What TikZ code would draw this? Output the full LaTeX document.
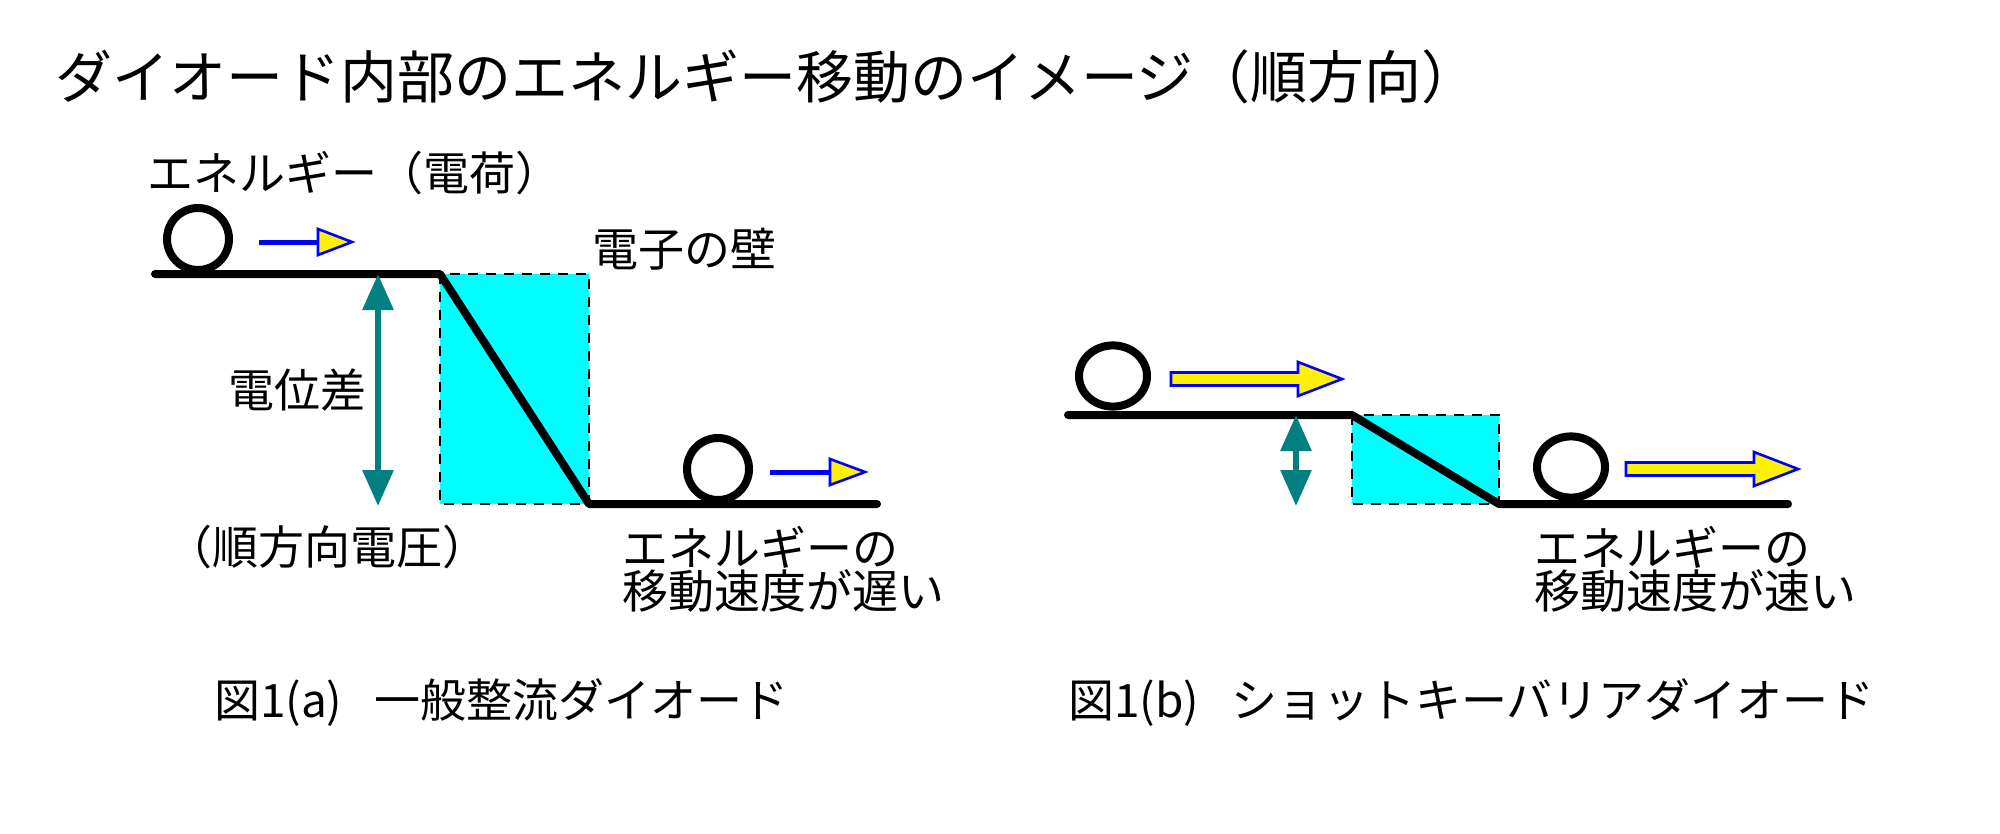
\documentclass[tikz,border=0pt]{standalone}
\usepackage{fontspec}
\newfontfamily\jpfont{Noto Sans CJK JP}
\usetikzlibrary{arrows.meta}
\definecolor{wallcyan}{RGB}{0,255,255}
\definecolor{voltteal}{RGB}{0,128,128}

\begin{document}
\begin{tikzpicture}[x=0.5pt, y=-0.5pt]
\tikzset{ >=latex, inner sep=0pt, outer sep=0pt,
  lbl/.style={font=\jpfont\fontsize{23}{28}\selectfont, anchor=west},
  ground/.style={line width=4pt, line cap=round, line join=round},
  charge/.style={line width=4pt},
  wall/.style={fill=wallcyan, draw=black, line width=1.2pt, dash pattern=on 5pt off 4pt},
  volt/.style={voltteal, line width=3pt, {Triangle[width=15pt,length=18pt]}-{Triangle[width=15pt,length=18pt]}},
  flow/.style={blue, line width=2.5pt},
  head/.style={fill=yellow, draw=blue, line width=1.3pt, line join=miter},
}

\useasboundingbox (0,0) rectangle (2000,834);

%\draw [lightgray, dashed](0,0) grid[step=100] (2000,834);

\node [lbl, font=\jpfont\fontsize{28.5}{34}\selectfont] (title) at (55,77) {ダイオード内部のエネルギー移動のイメージ（順方向）};

% (a) pn junction
\coordinate (A1) at (155,274);
\coordinate (A2) at (440,274);
\coordinate (A3) at (589,504);
\coordinate (A4) at (877,504);

\draw [wall] (A2) rectangle (A3);
\draw [ground] (A1) -- (A2) -- (A3) -- (A4);

\draw [charge] (198,239) ellipse [x radius=15.5pt, y radius=15.5pt];
\draw [charge] (718,469) ellipse [x radius=15.5pt, y radius=15.5pt];

\draw [flow] (259,242) -- (320,242);
\draw [head] (318,229) -- (352,242) -- (318,255) -- cycle;
\draw [flow] (770,472) -- (832,472);
\draw [head] (830,459) -- (865,472) -- (830,485) -- cycle;

\coordinate (VA1) at (378,274);
\coordinate (VA2) at (378,506);
\draw [volt] (VA1) -- (VA2);

\node [lbl] (chg)   at (147,173) {エネルギー（電荷）};
\node [lbl] (wallA) at (592,249) {電子の壁};
\node [lbl] (diff)  at (228,390) {電位差};
\node [lbl] (fwd)   at (166,547) {（順方向電圧）};
\node [lbl] (slow1) at (622,547) {エネルギーの};
\node [lbl] (slow2) at (622,591) {移動速度が遅い};
\node [lbl] (capA)  at (214,703) {図1(a)\hspace{0.7em}一般整流ダイオード};

% (b) schottky barrier
\coordinate (B1) at (1068,415);
\coordinate (B2) at (1352,415);
\coordinate (B3) at (1499,504);
\coordinate (B4) at (1788,504);

\draw [wall] (B2) rectangle (B3);
\draw [ground] (B1) -- (B2) -- (B3) -- (B4);

\draw [charge] (1113,376) ellipse [x radius=17pt, y radius=15.3pt];
\draw [charge] (1571,467) ellipse [x radius=17pt, y radius=15.3pt];

\draw [head] (1171,372.5) -- (1298,372.5) -- (1298,362) -- (1342,379)
  -- (1298,396) -- (1298,385.5) -- (1171,385.5) -- cycle;
\draw [head] (1626,462.5) -- (1754,462.5) -- (1754,452) -- (1798,469)
  -- (1754,486) -- (1754,475.5) -- (1626,475.5) -- cycle;

\coordinate (VB1) at (1296,415);
\coordinate (VB2) at (1296,506);
\draw [volt] (VB1) -- (VB2);

\node [lbl] (fast1) at (1534,547) {エネルギーの};
\node [lbl] (fast2) at (1534,591) {移動速度が速い};
\node [lbl] (capB)  at (1068,703) {図1(b)\hspace{0.7em}ショットキーバリアダイオード};

\end{tikzpicture}
\end{document}
